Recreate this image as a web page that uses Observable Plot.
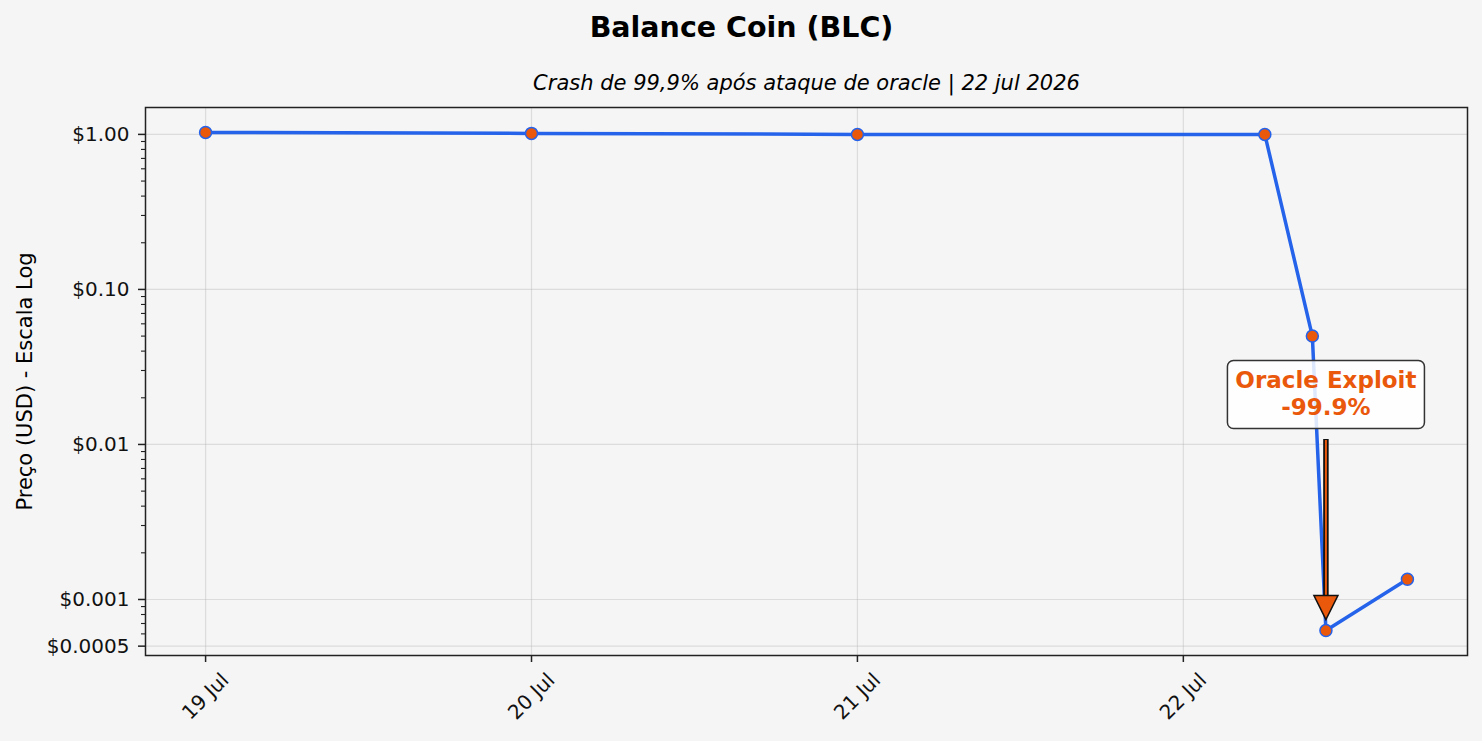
<!DOCTYPE html>
<html><head><meta charset="utf-8">
<script src="https://cdn.jsdelivr.net/npm/d3@7"></script>
<script src="https://cdn.jsdelivr.net/npm/@observablehq/plot@0.6"></script>
<style>
html,body{margin:0;padding:0;background:#f5f5f5;}
svg{display:block;}
</style></head><body><div id="chart"></div>
<script>
// ---- data ----
const title = "Balance Coin (BLC)";
const subtitle = "Crash de 99,9% após ataque de oracle | 22 jul 2026";
const yLabel = "Preço (USD) - Escala Log";
const timestamps = ["2026-07-19T00:00Z","2026-07-20T00:00Z","2026-07-21T00:00Z","2026-07-22T06:00Z","2026-07-22T09:30Z","2026-07-22T10:30Z","2026-07-22T16:30Z"];
const prices = [1.03, 1.015, 1.0, 1.0, 0.05, 0.00063, 0.00135];
const yTicks = [1, 0.1, 0.01, 0.001, 0.0005];
const yTickLabels = ["$1.00", "$0.10", "$0.01", "$0.001", "$0.0005"];
const xTicks = ["2026-07-19T00:00Z","2026-07-20T00:00Z","2026-07-21T00:00Z","2026-07-22T00:00Z"];
const xTickLabels = ["19 Jul", "20 Jul", "21 Jul", "22 Jul"];
const annotationLines = ["Oracle Exploit", "-99.9%"];
const annotationPointIndex = 5;
const annotationTextPrice = 0.021;

// ---- styles ----
const BLUE = "#2563eb", ORANGE = "#ea580c", FONT = "DejaVu Sans";

const data = timestamps.map((t, i) => ({date: new Date(t), price: prices[i]}));
const xTickDates = xTicks.map(t => new Date(t));
const t0 = +data[0].date, t1 = +data[data.length - 1].date, span = t1 - t0;
const xDomain = [new Date(t0 - 0.05 * span), new Date(t1 + 0.05 * span)];
const logs = prices.map(Math.log10);
const lmin = d3.min(logs), lmax = d3.max(logs), lspan = lmax - lmin;
const yDomain = [10 ** (lmin - 0.05 * lspan), 10 ** (lmax + 0.05 * lspan)];
const minorTicks = [];
for (let e = -5; e <= 1; e++) for (let m = 2; m <= 9; m++) {
  const v = m * 10 ** e;
  if (v >= yDomain[0] && v <= yDomain[1] && !yTicks.some(t => Math.abs(t - v) / t < 1e-6)) minorTicks.push(v);
}
const ann = {date: data[annotationPointIndex].date, price: data[annotationPointIndex].price, textPrice: annotationTextPrice, label: annotationLines.join("\n")};

const headSymbol = {draw(ctx) { ctx.moveTo(0, 0); ctx.lineTo(-12, -24); ctx.lineTo(12, -24); ctx.closePath(); }};
const boxSymbol = {draw(ctx) {
  const w = 98.5, h = 34, r = 6;
  ctx.moveTo(-w + r, -h); ctx.lineTo(w - r, -h); ctx.arcTo(w, -h, w, -h + r, r);
  ctx.lineTo(w, h - r); ctx.arcTo(w, h, w - r, h, r);
  ctx.lineTo(-w + r, h); ctx.arcTo(-w, h, -w, h - r, r);
  ctx.lineTo(-w, -h + r); ctx.arcTo(-w, -h, -w + r, -h, r); ctx.closePath();
}};

const chart = Plot.plot({
  width: 1482, height: 741,
  marginLeft: 145, marginRight: 15, marginTop: 107, marginBottom: 86,
  style: {background: "#f5f5f5", fontFamily: FONT, fontSize: "20px", color: "#111"},
  x: {type: "utc", domain: xDomain},
  y: {type: "log", domain: yDomain},
  marks: [
    Plot.gridX(xTickDates, {stroke: "#b0b0b0", strokeOpacity: 0.35, strokeWidth: 1.2}),
    Plot.gridY(yTicks, {stroke: "#b0b0b0", strokeOpacity: 0.35, strokeWidth: 1.2}),
    Plot.axisY(minorTicks, {tickSize: 4, tickFormat: () => "", stroke: "#222", strokeWidth: 1.1, label: null}),
    Plot.axisY(yTicks, {tickSize: 7, tickFormat: () => "", stroke: "#222", strokeWidth: 1.5, label: null}),
    Plot.text(yTicks, {y: d => d, text: (d, i) => yTickLabels[i], frameAnchor: "left", textAnchor: "end", lineAnchor: "middle", dx: -16, fontSize: 20, fill: "#111"}),
    Plot.axisX(xTickDates, {tickSize: 7, tickFormat: () => "", stroke: "#222", strokeWidth: 1.5, label: null}),
    Plot.text(xTickDates, {x: d => d, text: (d, i) => xTickLabels[i], frameAnchor: "bottom", rotate: -45, textAnchor: "middle", lineAnchor: "middle", dy: 41, fontSize: 20, fill: "#111"}),
    Plot.line(data, {x: "date", y: "price", stroke: BLUE, strokeWidth: 3.5}),
    Plot.dot(data, {x: "date", y: "price", r: 6, fill: ORANGE, stroke: BLUE, strokeWidth: 1.5}),
    Plot.dot([ann], {x: "date", y: "textPrice", symbol: boxSymbol, r: 10, fill: "white", fillOpacity: 0.85, stroke: "#333", strokeWidth: 1.5}),
    Plot.text([ann], {x: "date", y: "textPrice", text: "label", fill: ORANGE, fontWeight: "bold", fontSize: 23, lineHeight: 1.17, dy: -1.5}),
    Plot.ruleX([ann], {x: "date", y1: "textPrice", y2: "price", insetTop: 45, insetBottom: 33, stroke: "#111", strokeWidth: 5.5}),
    Plot.ruleX([ann], {x: "date", y1: "textPrice", y2: "price", insetTop: 46, insetBottom: 33, stroke: ORANGE, strokeWidth: 2}),
    Plot.dot([ann], {x: "date", y: "price", symbol: headSymbol, r: 10, fill: ORANGE, stroke: "#111", strokeWidth: 1.5, dy: -11}),
    Plot.frame({stroke: "#222", strokeWidth: 1.5}),
    Plot.text([title], {text: d => d, frameAnchor: "top", dx: -65, dy: -80, fontSize: 28.5, fontWeight: "bold", lineAnchor: "middle", fill: "#000"}),
    Plot.text([subtitle], {text: d => d, frameAnchor: "top", dy: -24, fontSize: 21, fontStyle: "italic", lineAnchor: "middle", fill: "#000"}),
    Plot.text([yLabel], {text: d => d, frameAnchor: "left", dx: -120, rotate: -90, textAnchor: "middle", fontSize: 21, lineAnchor: "middle", fill: "#000"})
  ]
});
document.getElementById("chart").appendChild(chart);
</script></body></html>
